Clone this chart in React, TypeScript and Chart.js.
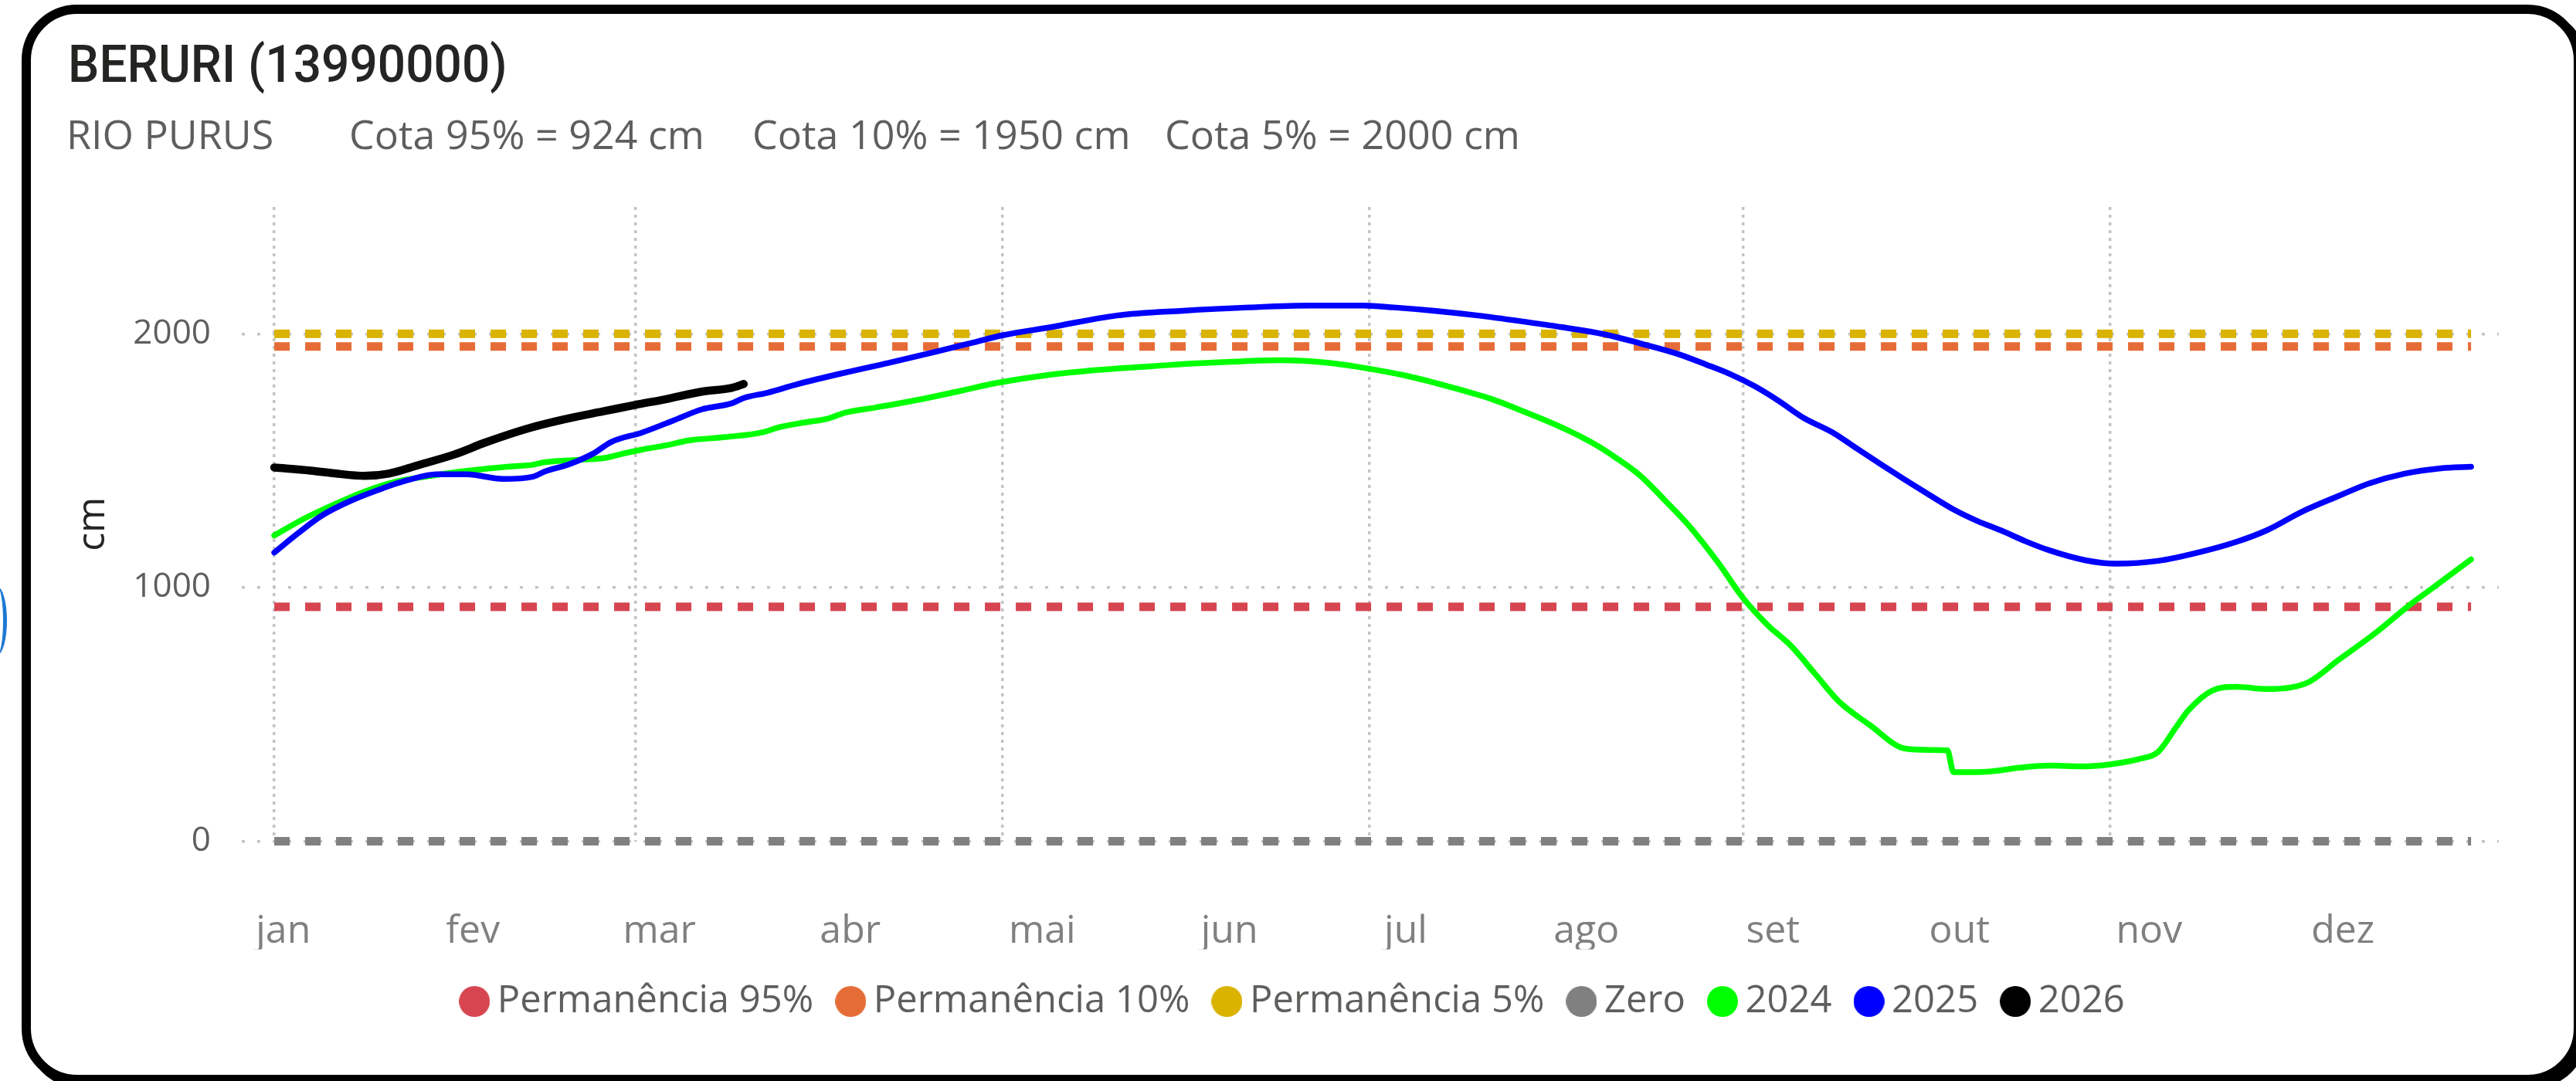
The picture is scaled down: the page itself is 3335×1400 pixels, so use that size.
import React, { useEffect, useRef } from 'react';
import { Chart, registerables } from 'chart.js';

Chart.register(...registerables);

// ---- axis labels / ticks ----
const monthLabels = ['jan', 'fev', 'mar', 'abr', 'mai', 'jun', 'jul', 'ago', 'set', 'out', 'nov', 'dez'];
const monthLabelDays = [1.5, 33, 64, 95.7, 127.6, 158.7, 188, 218, 249, 280, 311.5, 343.7];
const gridDays = [0, 60, 121, 182, 244, 305];
const yTicks = [0, 1000, 2000];

// ---- reference levels (cm) ----
const refDays = [0, 365];
const cota95 = 924;
const cota10 = 1950;
const cota5 = 2000;
const cotaZero = 0;

// ---- 2024 ----
const days2024 = [0, 5, 10, 15, 20, 26, 32, 39, 43, 45, 51, 55, 58, 61, 65, 69, 75, 81, 84, 88, 92, 95, 100, 107, 114, 120, 129, 137, 145, 152, 159, 167, 175, 181, 188, 195, 202, 208, 214, 219, 223, 227, 231, 235, 240, 244, 248, 252, 256, 260, 265, 271, 275, 278, 279, 285, 290, 295, 300, 305, 310, 313, 316, 318, 322, 326, 331, 335, 338, 343, 349, 355, 359, 365];
const cota2024 = [1205, 1272, 1328, 1378, 1416, 1440, 1460, 1477, 1484, 1494, 1504, 1511, 1528, 1543, 1560, 1580, 1593, 1611, 1632, 1650, 1666, 1690, 1710, 1740, 1775, 1806, 1839, 1858, 1871, 1882, 1890, 1896, 1886, 1866, 1835, 1793, 1745, 1690, 1630, 1570, 1510, 1440, 1345, 1245, 1095, 960, 855, 770, 660, 550, 460, 365, 360, 358, 272, 275, 290, 298, 295, 303, 325, 352, 450, 515, 594, 609, 600, 606, 627, 715, 819, 935, 1005, 1111];

// ---- 2025 ----
const days2025 = [0, 4, 8, 13, 18, 22, 27, 32, 38, 43, 45, 49, 53, 56, 61, 65, 67, 71, 76, 78, 82, 87, 95, 102, 110, 116, 121, 129, 140, 151, 162, 172, 181, 186, 193, 200, 207, 214, 221, 227, 233, 238, 242, 246, 250, 254, 259, 263, 267, 271, 275, 279, 283, 287, 291, 295, 301, 306, 313, 320, 326, 331, 337, 343, 348, 354, 360, 365];
const cota2025 = [1138, 1215, 1285, 1345, 1391, 1422, 1446, 1446, 1428, 1437, 1458, 1486, 1528, 1574, 1610, 1646, 1665, 1702, 1726, 1747, 1768, 1802, 1848, 1885, 1930, 1965, 1994, 2026, 2072, 2091, 2104, 2111, 2111, 2104, 2090, 2072, 2050, 2026, 1998, 1962, 1922, 1878, 1840, 1793, 1735, 1670, 1610, 1547, 1485, 1424, 1365, 1308, 1262, 1224, 1182, 1146, 1107, 1094, 1105, 1140, 1180, 1225, 1300, 1361, 1410, 1449, 1470, 1476];

// ---- 2026 ----
const days2026 = [0, 6, 10, 15, 19, 24, 30, 35, 42, 48, 55, 60, 65, 71, 76, 78];
const cota2026 = [1473, 1461, 1450, 1440, 1449, 1483, 1525, 1571, 1626, 1662, 1696, 1720, 1742, 1772, 1787, 1802];

const seriesNames = ['Permanência 95%', 'Permanência 10%', 'Permanência 5%', 'Zero', '2024', '2025', '2026'];
const seriesColors = ['#D64550', '#E66C37', '#D9B300', '#808080', '#00FF00', '#0000FF', '#000000'];

const FONT = "'Open Sans', 'Noto Sans', sans-serif";

const pts = (xs: number[], ys: number[]) => xs.map((x, i) => ({ x, y: ys[i] }));
const flat = (v: number) => refDays.map((x) => ({ x, y: v }));

export default function App() {
  const ref = useRef<HTMLCanvasElement>(null);

  useEffect(() => {
    const dots = seriesColors.map((c) => {
      const cv = document.createElement('canvas');
      cv.width = 40;
      cv.height = 40;
      const g = cv.getContext('2d')!;
      g.fillStyle = c;
      g.beginPath();
      g.arc(20, 20, 20, 0, Math.PI * 2);
      g.fill();
      return cv;
    });

    const refLine = (i: number, v: number, order: number) => ({
      label: seriesNames[i],
      data: flat(v),
      borderColor: seriesColors[i],
      backgroundColor: seriesColors[i],
      borderWidth: 11,
      borderDash: [20, 20],
      borderCapStyle: 'butt',
      pointRadius: 0,
      fill: false,
      clip: 14,
      order,
    });
    const dataLine = (i: number, data: any[], width: number, order: number) => ({
      label: seriesNames[i],
      data,
      borderColor: seriesColors[i],
      backgroundColor: seriesColors[i],
      borderWidth: width,
      borderCapStyle: 'round',
      borderJoinStyle: 'round',
      cubicInterpolationMode: 'monotone',
      pointRadius: 0,
      fill: false,
      clip: 14,
      order,
    });

    const chart = new Chart(ref.current!, {
      type: 'line',
      data: {
        datasets: [
          refLine(0, cota95, 6),
          refLine(1, cota10, 5),
          refLine(2, cota5, 4),
          refLine(3, cotaZero, 3),
          dataLine(4, pts(days2024, cota2024), 7.5, 2),
          dataLine(5, pts(days2025, cota2025), 7.5, 1),
          dataLine(6, pts(days2026, cota2026), 10.5, 0),
        ] as any,
      },
      options: {
        responsive: false,
        animation: false,
        devicePixelRatio: 1,
        layout: { padding: { left: 85, right: 95, top: 38, bottom: 18.5 } },
        plugins: {
          tooltip: { enabled: false },
          legend: {
            position: 'bottom',
            align: 'center',
            labels: {
              usePointStyle: true,
              pointStyleWidth: 10,
              boxHeight: 20,
              padding: 43,
              color: '#605E5C',
              font: { family: FONT, size: 49 },
              generateLabels: (c: any) => {
                const items = (Chart.defaults as any).plugins.legend.labels.generateLabels(c);
                items.sort((a: any, b: any) => a.datasetIndex - b.datasetIndex);
                items.forEach((it: any) => {
                  it.pointStyle = dots[it.datasetIndex];
                });
                return items;
              },
            },
          },
        },
        scales: {
          x: {
            type: 'linear',
            position: 'bottom',
            min: -5.4,
            max: 369.6,
            grid: { display: false, drawTicks: false },
            border: { display: false },
            afterBuildTicks: (s: any) => {
              s.ticks = monthLabelDays.map((v) => ({ value: v }));
            },
            afterFit: (s: any) => {
              s.height = 140;
              s.paddingLeft = 0;
              s.paddingRight = 0;
            },
            ticks: {
              autoSkip: false,
              maxRotation: 0,
              padding: 87,
              color: '#808080',
              font: { family: FONT, size: 50 },
              callback: (_v: any, i: number) => monthLabels[i],
            },
          },
          xg: {
            type: 'linear',
            position: 'bottom',
            min: -5.4,
            max: 369.6,
            grid: { display: true, drawTicks: false, color: '#C4C4C4', lineWidth: 3.5 },
            border: { display: false, dash: [4, 6] },
            afterBuildTicks: (s: any) => {
              s.ticks = gridDays.map((v) => ({ value: v }));
            },
            afterFit: (s: any) => {
              s.height = 0;
              s.paddingLeft = 0;
              s.paddingRight = 0;
            },
            ticks: { display: false },
          },
          y: {
            type: 'linear',
            min: 0,
            max: 2500,
            grid: { display: true, drawTicks: false, color: '#C4C4C4', lineWidth: 3.5 },
            border: { display: false, dash: [4, 16] },
            afterBuildTicks: (s: any) => {
              s.ticks = yTicks.map((v) => ({ value: v }));
            },
            afterFit: (s: any) => {
              s.width = 188;
              s.paddingTop = 0;
              s.paddingBottom = 0;
            },
            ticks: {
              padding: 40,
              color: '#605E5C',
              font: { family: FONT, size: 44 },
              callback: (v: any) => String(v),
            },
            title: {
              display: true,
              text: 'cm',
              color: '#252423',
              font: { family: FONT, size: 50 },
              padding: { top: -34, bottom: 0 },
            },
          },
        },
      } as any,
    });
    return () => chart.destroy();
  }, []);

  const sub: React.CSSProperties = {
    position: 'absolute',
    top: 146.8,
    fontFamily: FONT,
    fontSize: 52,
    lineHeight: '52px',
    color: '#605E5C',
    whiteSpace: 'pre',
  };

  return (
    <div style={{ position: 'fixed', left: 0, top: 0, width: 3335, height: 1400, overflow: 'hidden', background: '#ffffff' }}>
      <div
        style={{
          position: 'absolute',
          left: -16,
          top: 760,
          width: 20,
          height: 88,
          borderRight: '5px solid #1E78D2',
          borderRadius: '50%',
        }}
      />
      <div
        style={{
          position: 'absolute',
          left: 28,
          top: 6,
          width: 3316,
          height: 1398,
          boxSizing: 'border-box',
          border: '12px solid #000',
          borderRadius: 72,
          boxShadow: '6px 6px 0 0 #000',
          background: '#fff',
        }}
      />
      <div
        style={{
          position: 'absolute',
          left: 88,
          top: 51.4,
          fontFamily: "Roboto, 'Open Sans', sans-serif",
          fontWeight: 500,
          fontSize: 66,
          lineHeight: '66px',
          color: '#252423',
          whiteSpace: 'pre',
          transform: 'scaleX(0.97)',
          transformOrigin: 'left center',
        }}
      >
        BERURI (13990000)
      </div>
      <div style={{ ...sub, left: 86 }}>RIO PURUS</div>
      <div style={{ ...sub, left: 452 }}>Cota 95% = 924 cm</div>
      <div style={{ ...sub, left: 974 }}>Cota 10% = 1950 cm</div>
      <div style={{ ...sub, left: 1508 }}>Cota 5% = 2000 cm</div>
      <canvas
        ref={ref}
        width={3290}
        height={1120}
        style={{ position: 'absolute', left: 40, top: 230, width: 3290, height: 1120 }}
      />
    </div>
  );
}
